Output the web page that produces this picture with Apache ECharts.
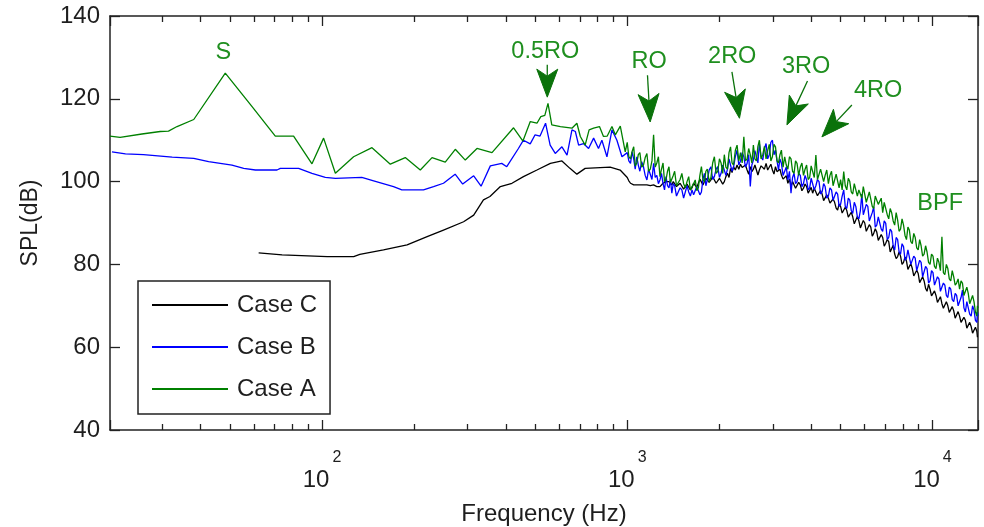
<!DOCTYPE html>
<html>
<head>
<meta charset="utf-8">
<script src="https://cdn.jsdelivr.net/npm/echarts@6/dist/echarts.min.js"></script>
<style>
  html, body { margin: 0; padding: 0; background: #ffffff; }
  #chart { width: 984px; height: 527px; }
</style>
</head>
<body>
<div id="chart"></div>
<script>
// ---- Low-frequency part of each spectrum (Hz, dB) ----
const lowFreqA = [20.2, 21.8, 25.7, 29.5, 31.4, 33.5, 38.0, 48.2, 59.0, 70.3, 80.7, 92.7, 101.2, 110.6, 126.9, 145.8, 167.4, 187.4, 209.9, 229.3, 253.4, 273.3, 294.7, 321.9, 360.5, 424.2, 455.3, 481.2, 506.1, 521, 537, 550, 566, 604, 659, 684, 702, 728, 750, 776, 811, 836, 860, 891, 914, 949, 985];
const lowSplA  = [111.0, 110.7, 111.5, 112.1, 112.2, 113.3, 115.0, 126.2, 118.1, 111.0, 111.0, 104.3, 110.5, 102.0, 106.0, 108.2, 104.2, 105.8, 102.8, 105.8, 104.7, 107.8, 105.2, 108.0, 107.0, 113.0, 109.8, 114.5, 114.1, 115.7, 116.0, 118.9, 113.7, 113.3, 112.9, 114.1, 110.9, 108.8, 112.5, 112.9, 113.3, 110.9, 111.0, 113.3, 111.3, 113.4, 107.2];

const lowFreqB = [20.5, 22.7, 26.0, 32.3, 38.0, 42.5, 50.7, 55.4, 60.5, 71.2, 73.0, 83.8, 92.7, 102.5, 110.6, 135, 147.6, 171.5, 182.6, 215, 232, 250, 273, 289, 314, 332, 356, 388, 403, 440, 457, 481, 499, 518, 540, 559, 581, 611, 635, 659, 676, 693, 719, 747, 776, 805, 826, 858, 891, 925, 961];
const lowSplB  = [107.2, 106.7, 106.5, 105.9, 105.6, 104.8, 104.0, 103.2, 102.8, 102.8, 103.2, 103.2, 102.0, 101.0, 100.8, 101.0, 100.2, 98.8, 98.0, 98.0, 98.8, 99.6, 101.8, 99.4, 101.4, 98.9, 103.8, 104.4, 103.6, 108.0, 110.0, 109.1, 111.3, 111.0, 114.1, 108.8, 106.8, 108.4, 106.4, 112.5, 112.1, 108.8, 109.2, 108.0, 110.5, 108.0, 110.0, 106.0, 112.5, 110.0, 106.0];

const lowFreqC = [62, 74, 104, 127, 133, 159, 190, 221, 250, 291, 314, 338, 355, 384, 419, 457, 506, 560, 611, 649, 684, 728, 879, 948];
const lowSplC  = [82.8, 82.3, 81.9, 81.9, 82.4, 83.5, 84.7, 86.7, 88.3, 90.3, 91.9, 95.6, 96.4, 98.8, 99.6, 101.2, 102.8, 104.4, 105.0, 103.2, 101.8, 103.2, 103.5, 102.8];

// ---- High-frequency part, shared frequency bins (Hz) ----
const hfFreq = [
  1000, 1012, 1025, 1037, 1050, 1062, 1075, 1087, 1100, 1115,
  1130, 1145, 1160, 1175, 1190, 1205, 1220, 1235, 1250, 1265,
  1280, 1295, 1310, 1325, 1340, 1355, 1370, 1385, 1400, 1415,
  1430, 1450, 1470, 1490, 1510, 1530, 1550, 1570, 1590, 1610,
  1630, 1650, 1670, 1690, 1710, 1730, 1750, 1770, 1790, 1810,
  1830, 1855, 1880, 1905, 1930, 1955, 1980, 2005, 2030, 2055,
  2080, 2105, 2130, 2155, 2180, 2205, 2230, 2260, 2290, 2320,
  2350, 2380, 2410, 2440, 2470, 2500, 2530, 2560, 2590, 2620,
  2650, 2680, 2710, 2745, 2780, 2815, 2850, 2885, 2920, 2955,
  2990, 3025, 3060, 3095, 3130, 3165, 3200, 3240, 3280, 3320,
  3360, 3400, 3440, 3480, 3520, 3560, 3600, 3645, 3690, 3735,
  3780, 3825, 3870, 3915, 3960, 4005, 4050, 4100, 4150, 4200,
  4250, 4300, 4350, 4400, 4450, 4505, 4560, 4615, 4670, 4725,
  4780, 4835, 4890, 4945, 5000, 5060, 5120, 5180, 5240, 5300,
  5360, 5420, 5480, 5545, 5610, 5675, 5740, 5805, 5870, 5935,
  6000, 6070, 6140, 6210, 6280, 6350, 6420, 6495, 6570, 6645,
  6720, 6795, 6870, 6950, 7030, 7110, 7190, 7270, 7350, 7435,
  7520, 7605, 7690, 7775, 7860, 7950, 8040, 8130, 8220, 8310,
  8400, 8495, 8590, 8685, 8780, 8880, 8980, 9080, 9180, 9285,
  9390, 9495, 9600, 9710, 9820, 9930, 10040, 10155, 10270, 10385,
  10500, 10620, 10740, 10860, 10980, 11105, 11230, 11355, 11480, 11610,
  11740, 11870, 12000, 12135, 12270, 12405, 12540, 12680, 12820, 12960,
  13100, 13245, 13390, 13535, 13680, 13830, 13980, 14040, 14100];

const hfSplA = [
  109.5, 106.0, 105.5, 107.2, 108.4, 103.8, 104.5, 106.5, 107.0, 103.5,
  104.0, 105.8, 106.8, 102.5, 103.0, 105.0, 111.3, 103.5, 104.5, 106.0,
  101.2, 103.0, 104.5, 100.0, 100.5, 102.5, 103.6, 99.8, 99.6, 101.5,
  102.5, 99.0, 98.8, 100.5, 102.0, 99.5, 98.5, 100.0, 101.2, 98.0,
  98.0, 99.5, 100.4, 97.8, 98.5, 101.5, 103.6, 100.5, 100.0, 102.5,
  103.0, 100.0, 101.0, 104.5, 106.0, 102.0, 102.5, 105.5, 104.5, 102.0,
  106.5, 103.5, 103.0, 107.0, 108.4, 104.5, 104.0, 107.5, 108.8, 105.0,
  107.0, 104.5, 110.8, 105.0, 105.5, 108.0, 106.5, 104.5, 108.8, 105.5,
  105.0, 108.5, 110.0, 105.5, 106.5, 108.5, 105.5, 107.5, 109.0, 105.0,
  106.0, 109.0, 108.4, 105.0, 104.5, 106.5, 107.6, 103.5, 106.0, 104.0,
  103.0, 106.0, 105.5, 102.5, 102.0, 105.0, 104.4, 101.5, 103.5, 104.5,
  101.5, 103.0, 104.0, 100.5, 101.0, 103.8, 103.5, 101.0, 106.4, 100.5,
  100.5, 103.0, 102.8, 100.0, 101.5, 102.8, 99.5, 101.5, 102.5, 99.0,
  99.0, 101.8, 101.5, 98.5, 100.5, 98.0, 102.4, 99.0, 98.0, 100.8,
  100.0, 97.5, 97.0, 99.5, 99.6, 96.5, 98.0, 97.0, 96.0, 98.8,
  98.5, 95.0, 95.0, 97.5, 97.5, 94.0, 93.5, 96.5, 96.5, 94.5,
  94.5, 96.0, 92.5, 95.0, 95.0, 92.0, 91.0, 93.5, 92.5, 90.5,
  89.5, 92.5, 90.7, 88.0, 88.5, 91.0, 89.5, 87.0, 86.0, 89.0,
  88.3, 85.5, 85.0, 87.5, 86.5, 84.0, 83.5, 86.0, 84.5, 82.0,
  82.5, 84.5, 83.0, 80.5, 80.0, 82.5, 82.0, 79.5, 79.0, 81.5,
  80.5, 78.5, 86.7, 78.0, 77.5, 80.0, 79.0, 76.5, 76.0, 78.5,
  77.0, 75.0, 75.5, 76.5, 74.0, 76.0, 75.5, 72.5, 72.5, 74.5,
  73.0, 70.5, 70.5, 72.5, 71.0, 68.5, 67.5, 70.0, 69.5];

const hfSplB = [
  107.0, 105.0, 104.4, 107.2, 105.5, 103.0, 106.0, 104.0, 102.5, 104.8,
  103.6, 101.5, 100.4, 103.0, 102.8, 100.5, 104.4, 101.0, 101.5, 99.5,
  100.4, 102.0, 99.5, 98.0, 101.2, 99.0, 98.5, 100.5, 97.2, 99.5,
  99.0, 96.5, 96.4, 98.5, 98.0, 96.0, 96.4, 99.0, 97.5, 96.5,
  98.0, 96.8, 97.2, 98.8, 99.0, 96.8, 97.5, 100.5, 102.0, 99.0,
  100.5, 102.8, 103.6, 100.5, 101.2, 103.0, 103.6, 101.0, 102.0, 104.0,
  104.4, 101.5, 103.0, 105.5, 105.2, 102.5, 103.5, 106.0, 107.6, 104.0,
  105.0, 107.0, 106.0, 103.5, 104.4, 106.5, 98.8, 104.0, 105.2, 107.5,
  107.5, 104.5, 109.2, 106.0, 105.2, 108.0, 109.2, 105.5, 106.5, 109.5,
  110.0, 106.5, 107.6, 105.0, 102.8, 105.5, 104.4, 101.5, 101.5, 103.5,
  100.4, 102.5, 97.2, 101.0, 102.0, 99.5, 100.0, 102.0, 101.5, 98.8,
  99.5, 101.5, 100.4, 98.0, 98.5, 100.8, 101.2, 98.0, 99.0, 100.5,
  100.0, 97.0, 97.5, 99.5, 98.8, 96.0, 96.5, 98.5, 98.0, 95.5,
  95.5, 97.5, 97.0, 94.0, 94.5, 96.5, 98.0, 94.0, 93.5, 96.0,
  95.5, 93.0, 92.3, 95.0, 94.0, 91.5, 91.0, 93.0, 97.0, 92.0,
  92.3, 94.5, 94.0, 90.5, 90.5, 92.5, 93.9, 89.0, 89.5, 91.5,
  91.5, 88.5, 88.0, 90.5, 89.9, 86.0, 86.5, 88.5, 88.0, 84.5,
  83.5, 86.5, 86.0, 83.0, 82.5, 85.0, 84.3, 81.0, 81.5, 83.5,
  83.5, 80.0, 80.0, 82.0, 81.5, 78.5, 78.5, 81.0, 80.5, 77.0,
  77.0, 79.5, 79.0, 75.5, 76.0, 78.5, 78.0, 75.0, 74.6, 77.0,
  76.5, 73.5, 73.5, 75.5, 75.0, 72.5, 72.0, 74.5, 74.0, 71.5,
  71.0, 73.0, 72.5, 70.0, 70.0, 72.0, 73.8, 69.5, 68.5, 71.0,
  70.6, 68.0, 67.5, 70.0, 69.0, 66.5, 66.0, 68.5, 67.5];

const hfSplC = [
  101.0, 100.2, 99.6, 99.4, 99.2, 99.0, 99.2, 99.3, 99.2, 99.1,
  99.2, 99.3, 99.2, 99.0, 99.0, 99.2, 99.2, 99.0, 98.8, 98.9,
  98.8, 99.2, 99.6, 99.8, 100.0, 100.2, 100.0, 99.6, 99.2, 100.0,
  99.6, 98.8, 98.4, 99.6, 99.2, 98.2, 98.0, 99.4, 99.0, 98.0,
  98.5, 99.6, 100.0, 98.6, 99.0, 100.6, 100.4, 99.2, 99.6, 100.8,
  101.0, 99.8, 100.4, 101.2, 100.8, 99.6, 99.2, 100.8, 100.4, 99.4,
  100.0, 101.2, 102.0, 101.0, 103.2, 102.2, 103.6, 102.8, 104.0, 103.0,
  104.2, 103.4, 103.2, 104.0, 102.8, 101.8, 103.6, 102.4, 103.0, 104.0,
  102.8, 101.6, 102.8, 103.8, 104.0, 103.0, 104.4, 102.8, 103.2, 104.2,
  102.8, 101.8, 103.6, 102.4, 102.0, 103.0, 101.6, 100.6, 100.4, 101.4,
  99.6, 100.6, 98.8, 100.0, 99.6, 98.4, 98.8, 99.8, 99.2, 97.8,
  98.4, 99.4, 98.8, 97.2, 97.6, 98.6, 97.2, 98.4, 98.0, 96.6,
  96.4, 97.8, 97.0, 95.4, 95.6, 96.8, 96.0, 94.8, 94.4, 95.8,
  95.0, 93.6, 93.1, 94.6, 94.0, 92.4, 92.5, 93.8, 93.0, 91.4,
  91.0, 92.6, 91.5, 89.8, 90.0, 91.6, 90.5, 88.8, 89.1, 90.6,
  90.0, 88.0, 88.3, 89.6, 89.0, 86.8, 87.5, 88.6, 87.8, 85.8,
  85.9, 87.2, 86.5, 84.4, 85.1, 86.0, 85.5, 83.0, 83.0, 84.6,
  82.5, 81.4, 81.9, 83.0, 82.0, 80.0, 80.5, 81.8, 80.8, 78.8,
  78.6, 80.2, 79.0, 77.2, 77.0, 78.6, 77.8, 75.6, 75.4, 77.0,
  76.0, 74.2, 73.5, 75.2, 74.0, 72.4, 72.2, 73.6, 72.5, 70.8,
  71.0, 72.2, 70.5, 69.4, 69.8, 71.0, 70.0, 68.4, 68.6, 69.8,
  68.8, 67.0, 67.4, 68.6, 67.5, 66.0, 65.8, 67.2, 66.5, 64.6,
  64.6, 66.0, 65.0, 63.4, 63.5, 64.8, 63.8, 62.4, 62.5];

// ---- Annotations: label, label position, arrow tail and tip (Hz, dB) ----
const annLabels = ['S', '0.5RO', 'RO', '2RO', '3RO', '4RO', 'BPF'];
const annText   = [[47.5, 131.3], [539, 131.5], [1180, 129.1], [2208, 130.1], [3858, 127.9], [6640, 121.9], [10597, 94.6]];
const annTail   = [null, [547, 128.2], [1165, 125.7], [2203, 126.5], [3896, 124.3], [5445, 118.5], null];
const annTip    = [null, [547, 120.4], [1189, 114.4], [2332, 115.3], [3336, 113.7], [4343, 110.8], null];

const seriesNames = ['Case C', 'Case B', 'Case A'];
const seriesColors = ['#000000', '#0000ff', '#008000'];

function zip(f, v) { return f.map((x, i) => [x, v[i]]); }
const dataA = zip(lowFreqA, lowSplA).concat(zip(hfFreq, hfSplA));
const dataB = zip(lowFreqB, lowSplB).concat(zip(hfFreq, hfSplB));
const dataC = zip(lowFreqC, lowSplC).concat(zip(hfFreq, hfSplC));

const FONT = '"Liberation Sans", Arial, Helvetica, sans-serif';
const TEXT_COLOR = '#1e1e1e';
const ANN_COLOR = '#1f8f1f';
const ARROW_COLOR = '#0a720a';

const axisLineStyle = { color: '#222', width: 1.5 };

function xAxisCfg(pos, showLabels) {
  return {
    type: 'log',
    logBase: 10,
    position: pos,
    min: 20.2,
    max: 14100,
    axisLine: { show: true, onZero: false, lineStyle: axisLineStyle },
    axisTick: { show: true, inside: true, length: 10, lineStyle: { color: '#222', width: 1.3 } },
    minorTick: { show: true, splitNumber: 9, length: 6, lineStyle: { color: '#222', width: 1.3 } },
    splitLine: { show: false },
    minorSplitLine: { show: false },
    axisLabel: {
      show: showLabels,
      showMinLabel: false,
      showMaxLabel: false,
      margin: 36,
      color: TEXT_COLOR,
      fontFamily: FONT,
      formatter: function (v) {
        const e = Math.round(Math.log10(v));
        if (Math.abs(Math.log10(v) - e) > 1e-6) return '';
        return '{b|10}{s|' + e + '}';
      },
      rich: {
        b: { fontSize: 24, lineHeight: 26, fontFamily: FONT, color: TEXT_COLOR, verticalAlign: 'bottom' },
        s: { fontSize: 16, lineHeight: 18, fontFamily: FONT, color: TEXT_COLOR, verticalAlign: 'bottom', padding: [0, 0, 26, 3] }
      }
    },
    name: showLabels ? 'Frequency (Hz)' : '',
    nameLocation: 'middle',
    nameGap: 72,
    nameTextStyle: { fontSize: 24, fontFamily: FONT, color: TEXT_COLOR }
  };
}

function yAxisCfg(pos, showLabels) {
  return {
    type: 'value',
    position: pos,
    min: 40,
    max: 140,
    interval: 20,
    axisLine: { show: true, lineStyle: axisLineStyle },
    axisTick: { show: true, inside: true, length: 10, lineStyle: { color: '#222', width: 1.3 } },
    splitLine: { show: false },
    axisLabel: { show: showLabels, margin: 10, fontSize: 24, fontFamily: FONT, color: TEXT_COLOR },
    name: showLabels ? 'SPL(dB)' : '',
    nameLocation: 'middle',
    nameGap: 68,
    nameRotate: 90,
    nameTextStyle: { fontSize: 23, fontFamily: FONT, color: TEXT_COLOR }
  };
}

function lineSeries(name, color, data) {
  return {
    name: name,
    type: 'line',
    data: data,
    xAxisIndex: 0,
    yAxisIndex: 0,
    showSymbol: false,
    symbol: 'none',
    smooth: false,
    lineStyle: { color: color, width: 1.3 },
    itemStyle: { color: color },
    emphasis: { disabled: true }
  };
}

function renderAnnotation(params, api) {
  const i = api.value(2);
  const children = [];
  const tp = api.coord(annText[i]);
  children.push({
    type: 'text',
    x: tp[0],
    y: tp[1],
    style: {
      text: annLabels[i],
      fill: ANN_COLOR,
      font: '23.5px ' + FONT,
      align: 'center',
      verticalAlign: 'middle',
      textAlign: 'center',
      textVerticalAlign: 'middle'
    }
  });
  if (annTail[i]) {
    const s = api.coord(annTail[i]);
    const t = api.coord(annTip[i]);
    const dx = t[0] - s[0], dy = t[1] - s[1];
    const len = Math.sqrt(dx * dx + dy * dy);
    const ux = dx / len, uy = dy / len;
    const px = -uy, py = ux;
    const headLen = 28, halfW = 10.5, notch = 7;
    const bx = t[0] - ux * headLen, by = t[1] - uy * headLen;
    const nx = t[0] - ux * (headLen - notch), ny = t[1] - uy * (headLen - notch);
    children.push({
      type: 'line',
      shape: { x1: s[0], y1: s[1], x2: nx, y2: ny },
      style: { stroke: ARROW_COLOR, lineWidth: 1.3 }
    });
    children.push({
      type: 'polygon',
      shape: { points: [[t[0], t[1]], [bx + px * halfW, by + py * halfW], [nx, ny], [bx - px * halfW, by - py * halfW]] },
      style: { fill: ARROW_COLOR, stroke: ARROW_COLOR, lineWidth: 1 }
    });
  }
  return { type: 'group', children: children };
}

const chart = echarts.init(document.getElementById('chart'), null, { renderer: 'canvas' });
chart.setOption({
  animation: false,
  backgroundColor: '#ffffff',
  grid: { left: 110, right: 6, top: 16, bottom: 97, containLabel: false, outerBoundsMode: 'none' },
  xAxis: [xAxisCfg('bottom', true), xAxisCfg('top', false)],
  yAxis: [yAxisCfg('left', true), yAxisCfg('right', false)],
  legend: {
    data: seriesNames,
    orient: 'vertical',
    left: 138,
    top: 281,
    padding: [12, 13, 13, 14],
    itemGap: 18,
    itemWidth: 76,
    itemHeight: 2,
    icon: 'rect',
    backgroundColor: '#ffffff',
    borderColor: '#222',
    borderWidth: 1.5,
    borderRadius: 0,
    selectedMode: false,
    textStyle: { fontSize: 24, fontFamily: FONT, color: TEXT_COLOR, lineHeight: 24, padding: [0, 0, 0, 4] }
  },
  series: [
    lineSeries(seriesNames[0], seriesColors[0], dataC),
    lineSeries(seriesNames[1], seriesColors[1], dataB),
    lineSeries(seriesNames[2], seriesColors[2], dataA),
    {
      name: 'annotations',
      type: 'custom',
      xAxisIndex: 0,
      yAxisIndex: 0,
      data: annLabels.map((_, i) => [annText[i][0], annText[i][1], i]),
      encode: { x: 0, y: 1 },
      renderItem: renderAnnotation,
      silent: true,
      z: 10
    }
  ]
});
</script>
</body>
</html>
